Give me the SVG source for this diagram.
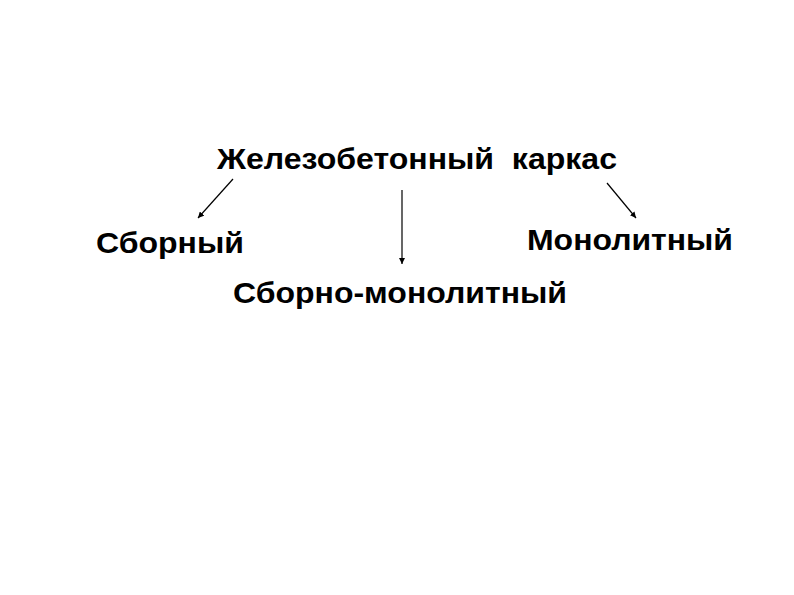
<svg xmlns="http://www.w3.org/2000/svg" width="794" height="595" viewBox="0 0 794 595">
<style>
.t{font-family:"Liberation Sans",Arial,sans-serif;font-weight:bold;font-size:30px;fill:#000;white-space:pre}
.c{stroke:#000;stroke-width:1.2;fill:none}
</style>
<defs>
<marker id="ah" viewBox="0 0 10 10" refX="10" refY="5" markerWidth="6" markerHeight="6" markerUnits="userSpaceOnUse" orient="auto">
<path d="M0,0 L10,5 L0,10 z" fill="#000"/>
</marker>
</defs>
<rect width="794" height="595" fill="#fff"/>
<g id="connectors">
<line class="c" x1="233" y1="179" x2="198" y2="218" marker-end="url(#ah)"/>
<line class="c" x1="402" y1="190" x2="402" y2="264" marker-end="url(#ah)"/>
<line class="c" x1="607" y1="183" x2="636" y2="218" marker-end="url(#ah)"/>
</g>
<g id="n-root"><text class="t" x="217" y="169" xml:space="preserve" textLength="400" lengthAdjust="spacingAndGlyphs">Железобетонный  каркас</text></g>
<g id="n-sborny"><text class="t" x="96" y="253" textLength="148" lengthAdjust="spacingAndGlyphs">Сборный</text></g>
<g id="n-monolit"><text class="t" x="527" y="250" textLength="206" lengthAdjust="spacingAndGlyphs">Монолитный</text></g>
<g id="n-sbmon"><text class="t" x="233" y="303" textLength="334" lengthAdjust="spacingAndGlyphs">Сборно-монолитный</text></g>
</svg>
